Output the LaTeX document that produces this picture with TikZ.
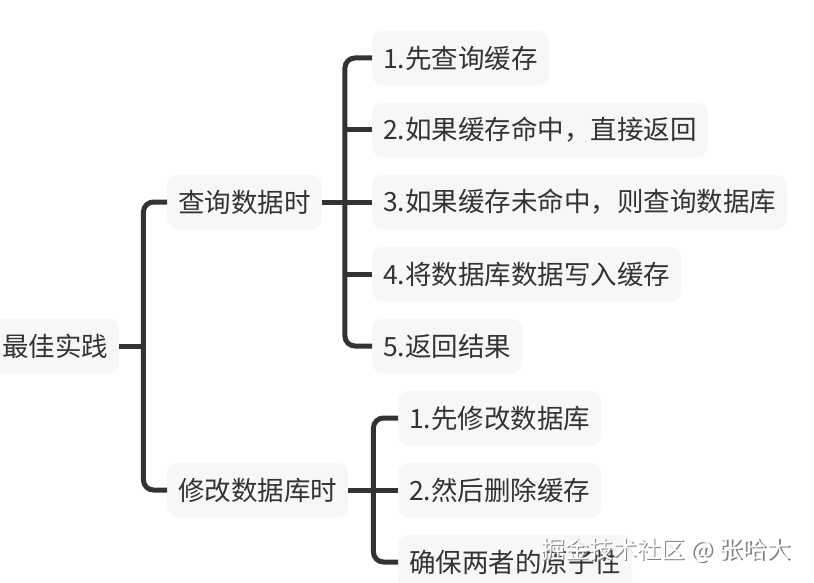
\documentclass[tikz,border=0pt]{standalone}
\usepackage{fontspec}
\setmainfont{Noto Sans CJK SC}
\definecolor{linkgray}{HTML}{333333}
\definecolor{boxgray}{HTML}{F7F7F7}
\tikzset{
 topic/.style={fill=boxgray, rounded corners=10pt, text=linkgray, inner xsep=11pt, inner ysep=0pt, minimum height=54pt, anchor=west, font=\fontsize{26.5}{30}\selectfont},
 link/.style={draw=linkgray, line width=5pt, rounded corners=10pt, line cap=butt},
 watermark/.style={font=\fontsize{24}{28}\selectfont, inner sep=0pt},
}
\begin{document}
\begin{tikzpicture}[x=1pt, y=-1pt, line join=round]
 \useasboundingbox (0,0) rectangle (814,583);
 % topics
 \node[topic] (best) at (-9,346) {最佳实践};
 \node[topic] (query) at (167,202) {查询数据时};
 \node[topic] (update) at (167,490) {修改数据库时};
 \foreach \t [count=\i] in {1.先查询缓存, 2.如果缓存命中，直接返回, 3.如果缓存未命中，则查询数据库, 4.将数据库数据写入缓存, 5.返回结果}
  \node[topic] (q\i) at (372,{58+72*(\i-1)}) {\t};
 \foreach \t [count=\i] in {1.先修改数据库, 2.然后删除缓存, 确保两者的原子性}
  \node[topic] (u\i) at (398,{418+72*(\i-1)}) {\t};
 % links
 \draw[link] (best.east) -- ++(24,0) coordinate (jb);
 \draw[link] (query.west) -| (jb) |- (update.west);
 \draw[link] (query.east) -- (q3.west);
 \path (query.east) ++(23,0) coordinate (jq);
 \draw[link] (q1.west) -| (jq) |- (q5.west);
 \foreach \i in {2,4} \draw[link] (q\i.west -| jq) -- (q\i.west);
 \draw[link] (update.east) -- (u2.west);
 \path (update.east) ++(25,0) coordinate (ju);
 \draw[link] (u1.west) -| (ju) |- (u3.west);
 % watermark
 \node[watermark, text=black!50] (markshadow) at (667.5,551.5) {掘金技术社区 @ 张哈大};
 \node[watermark, text=white] (mark) at (666,550) {掘金技术社区 @ 张哈大};
\end{tikzpicture}
\end{document}
